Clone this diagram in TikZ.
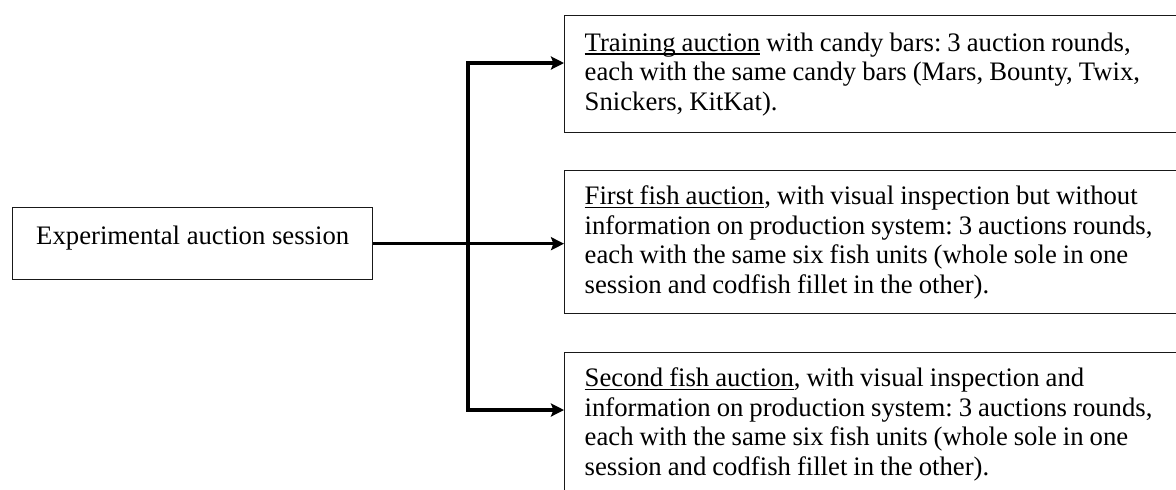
\documentclass[tikz,border=0pt]{standalone}
\usepackage{fontspec}
\setmainfont{Liberation Serif}
\usetikzlibrary{arrows.meta}
\frenchspacing
\newcommand\myul[1]{\setbox0\hbox{#1}\rlap{\rule[-1.8pt]{\wd0}{0.65pt}}#1}
\newcommand\tightsp{\spaceskip=3pt plus 1pt minus 0.5pt\relax}
\tikzset{
  box/.style={draw=black!90, line width=0.7pt, rectangle, inner xsep=10pt, inner ysep=0pt,
    font=\fontsize{13.35pt}{14.75pt}\selectfont},
  rbox/.style={box, anchor=north west, text width=300pt, align=left, minimum height=#1,
    font=\fontsize{13.35pt}{14.75pt}\selectfont, execute at begin node=\tightsp},
  conn/.style={line width=1.7pt, line join=miter, draw=black},
  tip/.style={-{Stealth[length=6.5pt, width=6.5pt, inset=1.2pt]}},
}
\begin{document}
\begin{tikzpicture}[x=0.5pt, y=-0.5pt]
\useasboundingbox (0,0) rectangle (1176,489);
\clip (0,0) rectangle (1176,489);
\node[box, anchor=north west, minimum width=180pt, text height=18.5pt, text depth=17.5pt] (sess) at (12,207) {Experimental auction session};
\node[rbox=58.5pt] (train) at (564,15) {\myul{Training auction} with candy bars: 3 auction rounds,\\each with the same candy bars (Mars, Bounty, Twix,\\Snickers, KitKat).};
\node[rbox=71.5pt] (first) at (564,170) {\myul{First fish auction}, with visual inspection but without\\information on production system: 3 auctions rounds,\\each with the same six fish units (whole sole in one\\session and codfish fillet in the other).};
\node[rbox=71.5pt] (second) at (564,352) {\myul{Second fish auction}, with visual inspection and\\information on production system: 3 auctions rounds,\\each with the same six fish units (whole sole in one\\session and codfish fillet in the other).};
\coordinate (jtop) at (468,63);
\coordinate (jbot) at (468,410);
\draw[conn, {Stealth[length=6.5pt, width=6.5pt, inset=1.2pt]}-{Stealth[length=6.5pt, width=6.5pt, inset=1.2pt]}] (jtop -| train.west) -- (jtop) -- (jbot) -- (jbot -| second.west);
\draw[conn, tip] (sess.east) -- (sess.east -| first.west);
\end{tikzpicture}
\end{document}
